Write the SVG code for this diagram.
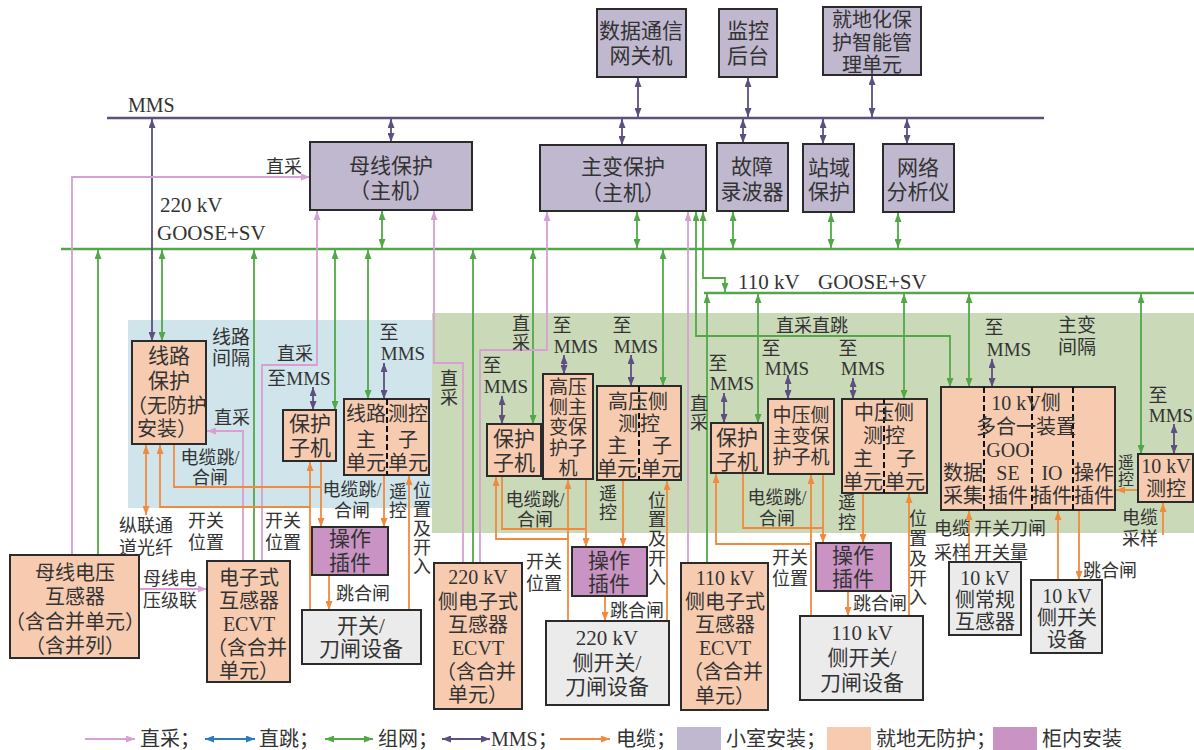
<svg xmlns="http://www.w3.org/2000/svg" width="1194" height="750" viewBox="0 0 1194 750">
<style>
.t{font-family:"Liberation Serif","Noto Sans CJK SC",serif;font-size:21px;fill:#333;text-anchor:middle}
.t0{font-size:20px}
.t9{font-size:19px}
.l{font-family:"Liberation Serif","Noto Sans CJK SC",serif;font-size:18px;fill:#333;text-anchor:middle}
.mm{font-size:19px}
.s{text-anchor:start}
.bx{stroke:#2b2b2b;stroke-width:2}
.pu{fill:#bfb8cf}.pe{fill:#f6cbb0}.op{fill:#c994c3}.gy{fill:#ebebeb}
.dv{stroke:#111;stroke-width:2;stroke-dasharray:6 3;fill:none}
path{fill:none;stroke-width:1.8}
.m2{stroke:#5d4f80;marker-start:url(#am);marker-end:url(#am)}
.g2{stroke:#52a847;marker-start:url(#ag);marker-end:url(#ag)}
.g1{stroke:#52a847;marker-end:url(#ag)}
.p1{stroke:#d79fd3;marker-end:url(#ap)}
.o1{stroke:#f28a3d;marker-end:url(#ao)}
.o2{stroke:#f28a3d;marker-start:url(#ao);marker-end:url(#ao)}
.o0{stroke:#f28a3d}
.b2{stroke:#2c7bbf;marker-start:url(#ab);marker-end:url(#ab)}
.lg{font-size:20px}
</style>
<defs>
<marker id="am" viewBox="0 0 9 7" refX="9" refY="3.5" markerWidth="9" markerHeight="7" markerUnits="userSpaceOnUse" orient="auto-start-reverse"><path d="M0,0L9,3.5L0,7z" style="fill:#5d4f80;stroke:none"/></marker>
<marker id="ag" viewBox="0 0 9 7" refX="9" refY="3.5" markerWidth="9" markerHeight="7" markerUnits="userSpaceOnUse" orient="auto-start-reverse"><path d="M0,0L9,3.5L0,7z" style="fill:#52a847;stroke:none"/></marker>
<marker id="ap" viewBox="0 0 9 7" refX="9" refY="3.5" markerWidth="9" markerHeight="7" markerUnits="userSpaceOnUse" orient="auto-start-reverse"><path d="M0,0L9,3.5L0,7z" style="fill:#d79fd3;stroke:none"/></marker>
<marker id="ao" viewBox="0 0 9 7" refX="9" refY="3.5" markerWidth="9" markerHeight="7" markerUnits="userSpaceOnUse" orient="auto-start-reverse"><path d="M0,0L9,3.5L0,7z" style="fill:#f28a3d;stroke:none"/></marker>
<marker id="ab" viewBox="0 0 9 7" refX="9" refY="3.5" markerWidth="9" markerHeight="7" markerUnits="userSpaceOnUse" orient="auto-start-reverse"><path d="M0,0L9,3.5L0,7z" style="fill:#2c7bbf;stroke:none"/></marker>
</defs>
<rect width="1194" height="750" fill="#fff"/>
<g id="zones">
<rect x="128" y="320" width="304" height="188" fill="#cfe5eb"/>
<rect x="432" y="313" width="762" height="220" fill="#cad9b8"/>
</g>
<g id="buses">
<path d="M107,118H1044" style="stroke:#5d4f80;stroke-width:2.6"/>
<path d="M61,249H1194" style="stroke:#52a847;stroke-width:2.6"/>
<path d="M704,293H1194" style="stroke:#52a847;stroke-width:2.6"/>
</g>
<g id="connectors">
<path class="m2" d="M638,78V117"/><path class="m2" d="M748,78V117"/><path class="m2" d="M872,76V117"/>
<path class="m2" d="M391,119V142"/><path class="m2" d="M622,119V145"/><path class="m2" d="M743,119V143"/>
<path class="m2" d="M823,119V144"/><path class="m2" d="M907,119V144"/><path class="m2" d="M152,119V341"/>
<path class="m2" d="M313,387V410"/><path class="m2" d="M384,363V399"/><path class="m2" d="M502,396V424"/>
<path class="m2" d="M564,355V374"/><path class="m2" d="M631,355V386"/><path class="m2" d="M724,393V423"/>
<path class="m2" d="M788,375V399"/><path class="m2" d="M853,378V399"/><path class="m2" d="M992,359V387"/>
<path class="m2" d="M1174,424V454"/>
<path class="g2" d="M382,211V248"/><path class="g2" d="M637,212V248"/><path class="g2" d="M733,212V248"/>
<path class="g2" d="M831,213V248"/><path class="g2" d="M898,213V248"/><path class="g2" d="M162,250V341"/>
<path class="g2" d="M335,250V410"/><path class="g2" d="M368,250V399"/><path class="g2" d="M533,250V424"/>
<path class="g2" d="M663,250V386"/><path class="g2" d="M758,294V423"/><path class="g2" d="M904,294V399"/>
<path class="g2" d="M969,294V387"/><path class="g2" d="M1141,294V454"/>
<path class="g2" d="M696,212V336H950V387"/><path class="g2" d="M703,212V278H725V292"/>
<path class="g1" d="M98,555V250"/><path class="g1" d="M254,561V250"/><path class="g1" d="M473,563V250"/><path class="g1" d="M707,563V294"/>
<path class="p1" d="M72,555V177H310"/><path class="p1" d="M262,561V365H317V211"/><path class="p1" d="M243,561V431H207"/>
<path class="p1" d="M463,563V363H434V211"/><path class="p1" d="M480,563V350H547V212"/><path class="p1" d="M688,563V212"/>
<path class="p1" d="M139,589H207"/>
<path class="o2" d="M146,445V515"/>
<path class="o1" d="M310,610V462"/><path class="o1" d="M310,507H160V445"/><path class="o0" d="M174,444V487H321"/>
<path class="o1" d="M321,461V527"/><path class="o1" d="M384,475V527"/><path class="o1" d="M409,610V476"/><path class="o1" d="M329,575V610"/>
<path class="o0" d="M502,476V529H586"/><path class="o1" d="M586,479V547"/><path class="o1" d="M568,621V480"/>
<path class="o1" d="M568,539H496V477"/><path class="o1" d="M623,480V547"/><path class="o1" d="M667,621V481"/><path class="o1" d="M605,596V621"/>
<path class="o0" d="M743,473V528H823"/><path class="o1" d="M823,474V543"/><path class="o1" d="M811,616V475"/>
<path class="o1" d="M811,544H716V474"/><path class="o1" d="M863,493V543"/><path class="o1" d="M909,616V494"/><path class="o1" d="M848,591V616"/>
<path class="o1" d="M1138,490H1116"/><path class="o1" d="M1163,535V503"/><path class="o1" d="M969,562V511"/>
<path class="o1" d="M1058,580V511"/><path class="o1" d="M1079,510V580"/>
</g>
<g id="n_gateway"><rect class="bx pu" x="597" y="9" width="89" height="68"/><text class="t" x="641" y="38">数据通信</text><text class="t" x="641" y="63">网关机</text></g>
<g id="n_monitor"><rect class="bx pu" x="719" y="9" width="58" height="68"/><text class="t" x="748" y="38">监控</text><text class="t" x="748" y="63">后台</text></g>
<g id="n_mgmt"><rect class="bx pu" x="823" y="7" width="98" height="68"/><text class="t t0" x="872" y="27">就地化保</text><text class="t t0" x="872" y="50">护智能管</text><text class="t t0" x="872" y="72">理单元</text></g>
<g id="n_busprot"><rect class="bx pu" x="310" y="142" width="162" height="68"/><text class="t" x="391" y="173">母线保护</text><text class="t" x="391" y="198">（主机）</text></g>
<g id="n_xfmrprot"><rect class="bx pu" x="540" y="145" width="166" height="66"/><text class="t" x="623" y="174">主变保护</text><text class="t" x="623" y="200">（主机）</text></g>
<g id="n_fault"><rect class="bx pu" x="717" y="143" width="71" height="68"/><text class="t" x="752" y="174">故障</text><text class="t" x="752" y="199">录波器</text></g>
<g id="n_station"><rect class="bx pu" x="803" y="144" width="51" height="68"/><text class="t" x="829" y="175">站域</text><text class="t" x="829" y="199">保护</text></g>
<g id="n_netan"><rect class="bx pu" x="883" y="144" width="71" height="68"/><text class="t" x="918" y="175">网络</text><text class="t" x="918" y="199">分析仪</text></g>
<g id="n_lineprot"><rect class="bx pe" x="132" y="341" width="74" height="103"/><text class="t" x="169" y="363">线路</text><text class="t" x="169" y="388">保护</text><text class="t t0" x="167" y="413">（无防护</text><text class="t t0" x="167" y="436">安装）</text></g>
<g id="n_sub1"><rect class="bx pe" x="283" y="410" width="53" height="51"/><text class="t" x="310" y="431">保护</text><text class="t" x="310" y="455">子机</text></g>
<g id="n_linemc"><rect class="bx pe" x="344" y="399" width="85" height="76"/><path class="dv" d="M387,399V475"/><text class="t t0" x="366" y="421">线路</text><text class="t t0" x="408" y="421">测控</text><text class="t t0" x="366" y="447">主</text><text class="t t0" x="408" y="447">子</text><text class="t t0" x="366" y="470">单元</text><text class="t t0" x="408" y="470">单元</text></g>
<g id="n_op1"><rect class="bx op" x="312" y="527" width="76" height="48"/><text class="t" x="350" y="546">操作</text><text class="t" x="350" y="570">插件</text></g>
<g id="n_sw1"><rect class="bx gy" x="302" y="610" width="119" height="54"/><text class="t" x="361" y="633">开关/</text><text class="t" x="361" y="656">刀闸设备</text></g>
<g id="n_busvt"><rect class="bx pe" x="10" y="555" width="129" height="103"/><text class="t t0" x="75" y="580">母线电压</text><text class="t t0" x="75" y="604">互感器</text><text class="t t0" x="75" y="629">（含合并单元）</text><text class="t t0" x="75" y="653">（含并列）</text></g>
<g id="n_ecvt1"><rect class="bx pe" x="207" y="561" width="83" height="121"/><text class="t t0" x="249" y="585">电子式</text><text class="t t0" x="249" y="608">互感器</text><text class="t t0" x="249" y="631">ECVT</text><text class="t t0" x="247" y="655">（含合并</text><text class="t t0" x="249" y="678">单元）</text></g>
<g id="n_ecvt220"><rect class="bx pe" x="434" y="563" width="88" height="146"/><text class="t t0" x="478" y="584">220 kV</text><text class="t t0" x="478" y="609">侧电子式</text><text class="t t0" x="478" y="632">互感器</text><text class="t t0" x="478" y="655">ECVT</text><text class="t t0" x="476" y="679">（含合并</text><text class="t t0" x="478" y="702">单元）</text></g>
<g id="n_sub220"><rect class="bx pe" x="487" y="424" width="54" height="52"/><text class="t" x="514" y="446">保护</text><text class="t" x="514" y="470">子机</text></g>
<g id="n_hvprot"><rect class="bx pe" x="543" y="374" width="50" height="105"/><text class="t t9" x="568" y="394">高压</text><text class="t t9" x="568" y="414">侧主</text><text class="t t9" x="568" y="434">变保</text><text class="t t9" x="568" y="455">护子</text><text class="t t9" x="568" y="475">机</text></g>
<g id="n_hvmc"><rect class="bx pe" x="597" y="386" width="84" height="94"/><path class="dv" d="M639,386V480"/><text class="t t0" x="638" y="409">高压侧</text><text class="t t0" x="628" y="431">测</text><text class="t t0" x="650" y="431">控</text><text class="t t0" x="617" y="453">主</text><text class="t t0" x="662" y="453">子</text><text class="t t0" x="617" y="476">单元</text><text class="t t0" x="661" y="476">单元</text></g>
<g id="n_op220"><rect class="bx op" x="572" y="547" width="75" height="49"/><text class="t" x="609" y="568">操作</text><text class="t" x="609" y="591">插件</text></g>
<g id="n_sw220"><rect class="bx gy" x="546" y="621" width="123" height="84"/><text class="t" x="607" y="645">220 kV</text><text class="t" x="607" y="670">侧开关/</text><text class="t" x="607" y="694">刀闸设备</text></g>
<g id="n_ecvt110"><rect class="bx pe" x="681" y="563" width="87" height="147"/><text class="t t0" x="725" y="585">110 kV</text><text class="t t0" x="725" y="609">侧电子式</text><text class="t t0" x="725" y="632">互感器</text><text class="t t0" x="725" y="655">ECVT</text><text class="t t0" x="723" y="679">（含合并</text><text class="t t0" x="725" y="703">单元）</text></g>
<g id="n_sub110"><rect class="bx pe" x="711" y="423" width="52" height="50"/><text class="t" x="737" y="445">保护</text><text class="t" x="737" y="469">子机</text></g>
<g id="n_mvprot"><rect class="bx pe" x="768" y="399" width="66" height="75"/><text class="t t9" x="801" y="422">中压侧</text><text class="t t9" x="801" y="443">主变保</text><text class="t t9" x="801" y="464">护子机</text></g>
<g id="n_mvmc"><rect class="bx pe" x="842" y="399" width="85" height="94"/><path class="dv" d="M884,399V493"/><text class="t t0" x="884" y="420">中压侧</text><text class="t t0" x="873" y="443">测</text><text class="t t0" x="895" y="443">控</text><text class="t t0" x="863" y="466">主</text><text class="t t0" x="906" y="466">子</text><text class="t t0" x="863" y="489">单元</text><text class="t t0" x="905" y="489">单元</text></g>
<g id="n_op110"><rect class="bx op" x="816" y="543" width="75" height="48"/><text class="t" x="853" y="563">操作</text><text class="t" x="853" y="586">插件</text></g>
<g id="n_sw110"><rect class="bx gy" x="800" y="616" width="123" height="84"/><text class="t" x="862" y="640">110 kV</text><text class="t" x="862" y="665">侧开关/</text><text class="t" x="862" y="690">刀闸设备</text></g>
<g id="n_10kv"><rect class="bx pe" x="941" y="387" width="174" height="123"/><path class="dv" d="M984,387V510M1032,387V510M1073,387V510"/>
<text class="t t0" x="1026" y="410">10 kV侧</text><text class="t t0" x="1026" y="434">多合一装置</text>
<text class="t t0" x="1008" y="457">GOO</text><text class="t t0" x="1008" y="480">SE</text><text class="t t0" x="1008" y="503">插件</text>
<text class="t t0" x="963" y="480">数据</text><text class="t t0" x="963" y="503">采集</text>
<text class="t t0" x="1052" y="480">IO</text><text class="t t0" x="1052" y="503">插件</text>
<text class="t t0" x="1094" y="480">操作</text><text class="t t0" x="1094" y="503">插件</text></g>
<g id="n_10mc"><rect class="bx pe" x="1138" y="454" width="55" height="48"/><text class="t t0" x="1166" y="473">10 kV</text><text class="t t0" x="1166" y="496">测控</text></g>
<g id="n_10ct"><rect class="bx gy" x="949" y="562" width="72" height="73"/><text class="t t0" x="985" y="585">10 kV</text><text class="t t0" x="985" y="607">侧常规</text><text class="t t0" x="985" y="629">互感器</text></g>
<g id="n_10sw"><rect class="bx gy" x="1031" y="580" width="71" height="73"/><text class="t t0" x="1067" y="603">10 kV</text><text class="t t0" x="1067" y="625">侧开关</text><text class="t t0" x="1067" y="647">设备</text></g>
<g id="labels">
<text class="l s" x="128" y="112" style="font-size:20px">MMS</text>
<text class="l" x="284" y="173">直采</text>
<text class="l s" x="160" y="212" style="font-size:21px">220 kV</text>
<text class="l s" x="157" y="240" style="font-size:21px">GOOSE+SV</text>
<text class="l s" x="738" y="289" style="font-size:21px">110 kV</text>
<text class="l s" x="818" y="289" style="font-size:21px">GOOSE+SV</text>
<text class="l mm" x="231" y="344">线路</text><text class="l mm" x="231" y="365">间隔</text>
<text class="l" x="295" y="360">直采</text>
<text class="l mm" x="299" y="385">至MMS</text>
<text class="l mm" x="389" y="339">至</text><text class="l mm" x="403" y="360">MMS</text>
<text class="l" x="232" y="424">直采</text>
<text class="l" x="210" y="464">电缆跳/</text><text class="l" x="210" y="484">合闸</text>
<text class="l" x="352" y="496">电缆跳/</text><text class="l" x="352" y="517">合闸</text>
<text class="l" x="398" y="498">遥</text><text class="l" x="398" y="517">控</text>
<text class="l" x="422" y="497">位</text><text class="l" x="422" y="516">置</text><text class="l" x="422" y="535">及</text><text class="l" x="422" y="554">开</text><text class="l" x="422" y="573">入</text>
<text class="l" x="146" y="532">纵联通</text><text class="l" x="146" y="554">道光纤</text>
<text class="l" x="206" y="527">开关</text><text class="l" x="206" y="549">位置</text>
<text class="l" x="283" y="527">开关</text><text class="l" x="283" y="549">位置</text>
<text class="l s" x="336" y="600">跳合闸</text>
<text class="l" x="170" y="585">母线电</text><text class="l" x="170" y="607">压级联</text>
<text class="l" x="449" y="385">直</text><text class="l" x="449" y="404">采</text>
<text class="l" x="521" y="330">直</text><text class="l" x="521" y="349">采</text>
<text class="l mm" x="492" y="372">至</text><text class="l mm" x="506" y="393">MMS</text>
<text class="l mm" x="562" y="332">至</text><text class="l mm" x="576" y="353">MMS</text>
<text class="l mm" x="622" y="332">至</text><text class="l mm" x="636" y="353">MMS</text>
<text class="l" x="535" y="506">电缆跳/</text><text class="l" x="535" y="526">合闸</text>
<text class="l" x="608" y="500">遥</text><text class="l" x="608" y="519">控</text>
<text class="l" x="657" y="507">位</text><text class="l" x="657" y="526">置</text><text class="l" x="657" y="545">及</text><text class="l" x="657" y="565">开</text><text class="l" x="657" y="584">入</text>
<text class="l" x="544" y="568">开关</text><text class="l" x="544" y="590">位置</text>
<text class="l s" x="610" y="617">跳合闸</text>
<text class="l" x="699" y="410">直</text><text class="l" x="699" y="429">采</text>
<text class="l s" x="776" y="332">直采直跳</text>
<text class="l mm" x="718" y="370">至</text><text class="l mm" x="732" y="390">MMS</text>
<text class="l mm" x="771" y="355">至</text><text class="l mm" x="787" y="375">MMS</text>
<text class="l mm" x="848" y="355">至</text><text class="l mm" x="863" y="375">MMS</text>
<text class="l" x="777" y="504">电缆跳/</text><text class="l" x="777" y="525">合闸</text>
<text class="l" x="847" y="509">遥</text><text class="l" x="847" y="529">控</text>
<text class="l" x="918" y="525">位</text><text class="l" x="918" y="545">置</text><text class="l" x="918" y="565">及</text><text class="l" x="918" y="585">开</text><text class="l" x="918" y="604">入</text>
<text class="l" x="790" y="564">开关</text><text class="l" x="790" y="585">位置</text>
<text class="l s" x="853" y="610">跳合闸</text>
<text class="l mm" x="994" y="334">至</text><text class="l mm" x="1009" y="356">MMS</text>
<text class="l mm" x="1077" y="332">主变</text><text class="l mm" x="1077" y="354">间隔</text>
<text class="l mm" x="1158" y="402">至</text><text class="l mm" x="1171" y="422">MMS</text>
<text class="l" x="1126" y="468" style="font-size:16px">遥</text><text class="l" x="1126" y="485" style="font-size:16px">控</text>
<text class="l" x="1140" y="524">电缆</text><text class="l" x="1140" y="545">采样</text>
<text class="l" x="952" y="535">电缆</text><text class="l" x="952" y="559">采样</text>
<text class="l s" x="974" y="535">开关刀闸</text><text class="l s" x="974" y="559">开关量</text>
<text class="l s" x="1083" y="577">跳合闸</text>
</g>
<g id="legend">
<path class="p1" d="M85,739H135"/><text class="l s lg" x="140" y="746">直采；</text>
<path class="b2" d="M205,739H255"/><text class="l s lg" x="259" y="746">直跳；</text>
<path class="g2" d="M325,739H373"/><text class="l s lg" x="378" y="746">组网；</text>
<path class="m2" d="M442,739H490"/><text class="l s lg" x="491" y="746">MMS；</text>
<path class="o1" d="M560,739H610"/><text class="l s lg" x="616" y="746">电缆；</text>
<rect class="pu" x="677" y="727" width="44" height="23"/><text class="l s lg" x="726" y="746">小室安装；</text>
<rect class="pe" x="827" y="727" width="44" height="23"/><text class="l s lg" x="876" y="746">就地无防护；</text>
<rect class="op" x="993" y="727" width="44" height="23"/><text class="l s lg" x="1042" y="746">柜内安装</text>
</g>
</svg>
